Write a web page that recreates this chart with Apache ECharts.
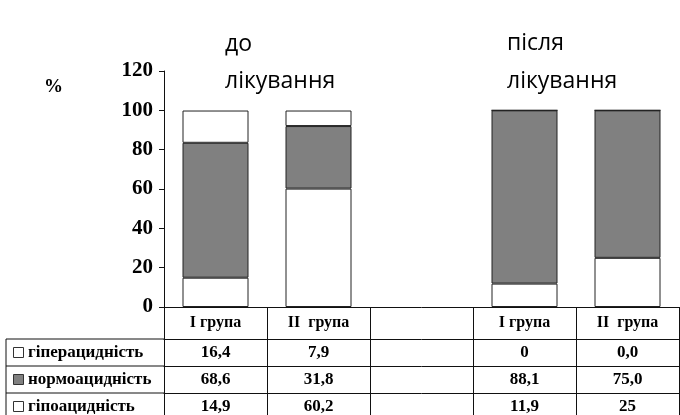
<!DOCTYPE html>
<html>
<head>
<meta charset="utf-8">
<script src="https://cdn.jsdelivr.net/npm/echarts@6/dist/echarts.min.js"></script>
<style>
html, body { margin: 0; padding: 0; background: #fff; }
#chart { width: 680px; height: 415px; }
</style>
</head>
<body>
<div id="chart"></div>
<script>
// категорії (третя колонка порожня - проміжок між "до" і "після")
var categories = ['I група', 'II  група', '', 'I група', 'II  група'];

// значення, %
var hipo = [14.9, 60.2, null, 11.9, 25];
var normo = [68.6, 31.8, null, 88.1, 75.0];
var hiper = [16.4, 7.9, null, 0, 0.0];

// підписи таблиці під графіком
var hiperText = ['16,4', '7,9', '', '0', '0,0'];
var normoText = ['68,6', '31,8', '', '88,1', '75,0'];
var hipoText = ['14,9', '60,2', '', '11,9', '25'];
var rowNames = ['гіперацидність', 'нормоацидність', 'гіпоацидність'];
var rowColors = ['#ffffff', '#808080', '#ffffff'];

var yTicks = { min: 0, max: 120, interval: 20 };

var serif = '"Liberation Serif", "DejaVu Serif", serif';
var sans = '"Open Sans", "Noto Sans", sans-serif';
var lineColor = '#111';

var myChart = echarts.init(document.getElementById('chart'));

function tableAxis(data, offset, fontSize, margin, tickLen) {
	return {
		type: 'category',
		position: 'bottom',
		offset: offset,
		data: data,
		axisLine: { show: true, lineStyle: { color: lineColor, width: 1 } },
		axisTick: { show: true, inside: false, length: tickLen, lineStyle: { color: lineColor } },
		axisLabel: {
			margin: margin,
			color: '#000',
			fontFamily: serif,
			fontWeight: 'bold',
			fontSize: fontSize,
			interval: 0
		}
	};
}

var barStyle = function(color) {
	return { color: color, borderColor: '#222', borderWidth: 1 };
};

// ліва колонка таблиці (назви рядків)
var graphics = [];
var rowTops = [339, 366, 393];
graphics.push({ type: 'line', shape: { x1: 6, y1: 339, x2: 6, y2: 420 }, style: { stroke: lineColor, lineWidth: 1 } });
rowTops.forEach(function(top, i) {
	graphics.push({ type: 'line', shape: { x1: 6, y1: top, x2: 164, y2: top }, style: { stroke: lineColor, lineWidth: 1 } });
	graphics.push({ type: 'rect', shape: { x: 13.5, y: top + 8.5, width: 10, height: 10 }, style: { fill: rowColors[i], stroke: '#333', lineWidth: 1 } });
	graphics.push({ type: 'text', x: 28, y: top + 14, style: { text: rowNames[i], fill: '#000', font: 'bold 17px ' + serif, verticalAlign: 'middle' } });
});

// заголовки та підпис осі
var titleFont = '23px ' + sans;
graphics.push({ type: 'text', x: 225, y: 33, style: { text: 'до', fill: '#000', font: titleFont, verticalAlign: 'alphabetic' } });
graphics.push({ type: 'text', x: 225, y: 70, style: { text: 'лікування', fill: '#000', font: titleFont, verticalAlign: 'alphabetic' } });
graphics.push({ type: 'text', x: 507, y: 32, style: { text: 'після', fill: '#000', font: titleFont, verticalAlign: 'alphabetic' } });
graphics.push({ type: 'text', x: 507, y: 70, style: { text: 'лікування', fill: '#000', font: titleFont, verticalAlign: 'alphabetic' } });
graphics.push({ type: 'text', x: 44, y: 87, style: { text: '%', fill: '#000', font: 'bold 19px ' + serif, verticalAlign: 'middle' } });

var option = {
	animation: false,
	backgroundColor: '#fff',
	grid: { left: 164, right: 1, top: 71, bottom: 108 },
	xAxis: [
		tableAxis(categories, 0, 16, 8, 32),
		tableAxis(hiperText, 32, 17, 5, 27),
		tableAxis(normoText, 59, 17, 5, 27),
		tableAxis(hipoText, 86, 17, 5, 27)
	],
	yAxis: {
		type: 'value',
		min: yTicks.min,
		max: yTicks.max,
		interval: yTicks.interval,
		axisLine: { show: true, lineStyle: { color: lineColor } },
		axisTick: { show: true, inside: false, length: 5, lineStyle: { color: lineColor } },
		splitLine: { show: false },
		axisLabel: { margin: 11, color: '#000', fontFamily: serif, fontWeight: 'bold', fontSize: 21 }
	},
	series: [
		{ name: 'гіпоацидність', type: 'bar', stack: 'a', barWidth: 66, data: hipo, itemStyle: barStyle('#ffffff') },
		{ name: 'нормоацидність', type: 'bar', stack: 'a', barWidth: 66, data: normo, itemStyle: barStyle('#808080') },
		{ name: 'гіперацидність', type: 'bar', stack: 'a', barWidth: 66, data: hiper, itemStyle: barStyle('#ffffff') }
	],
	graphic: graphics
};

myChart.setOption(option);
</script>
</body>
</html>
